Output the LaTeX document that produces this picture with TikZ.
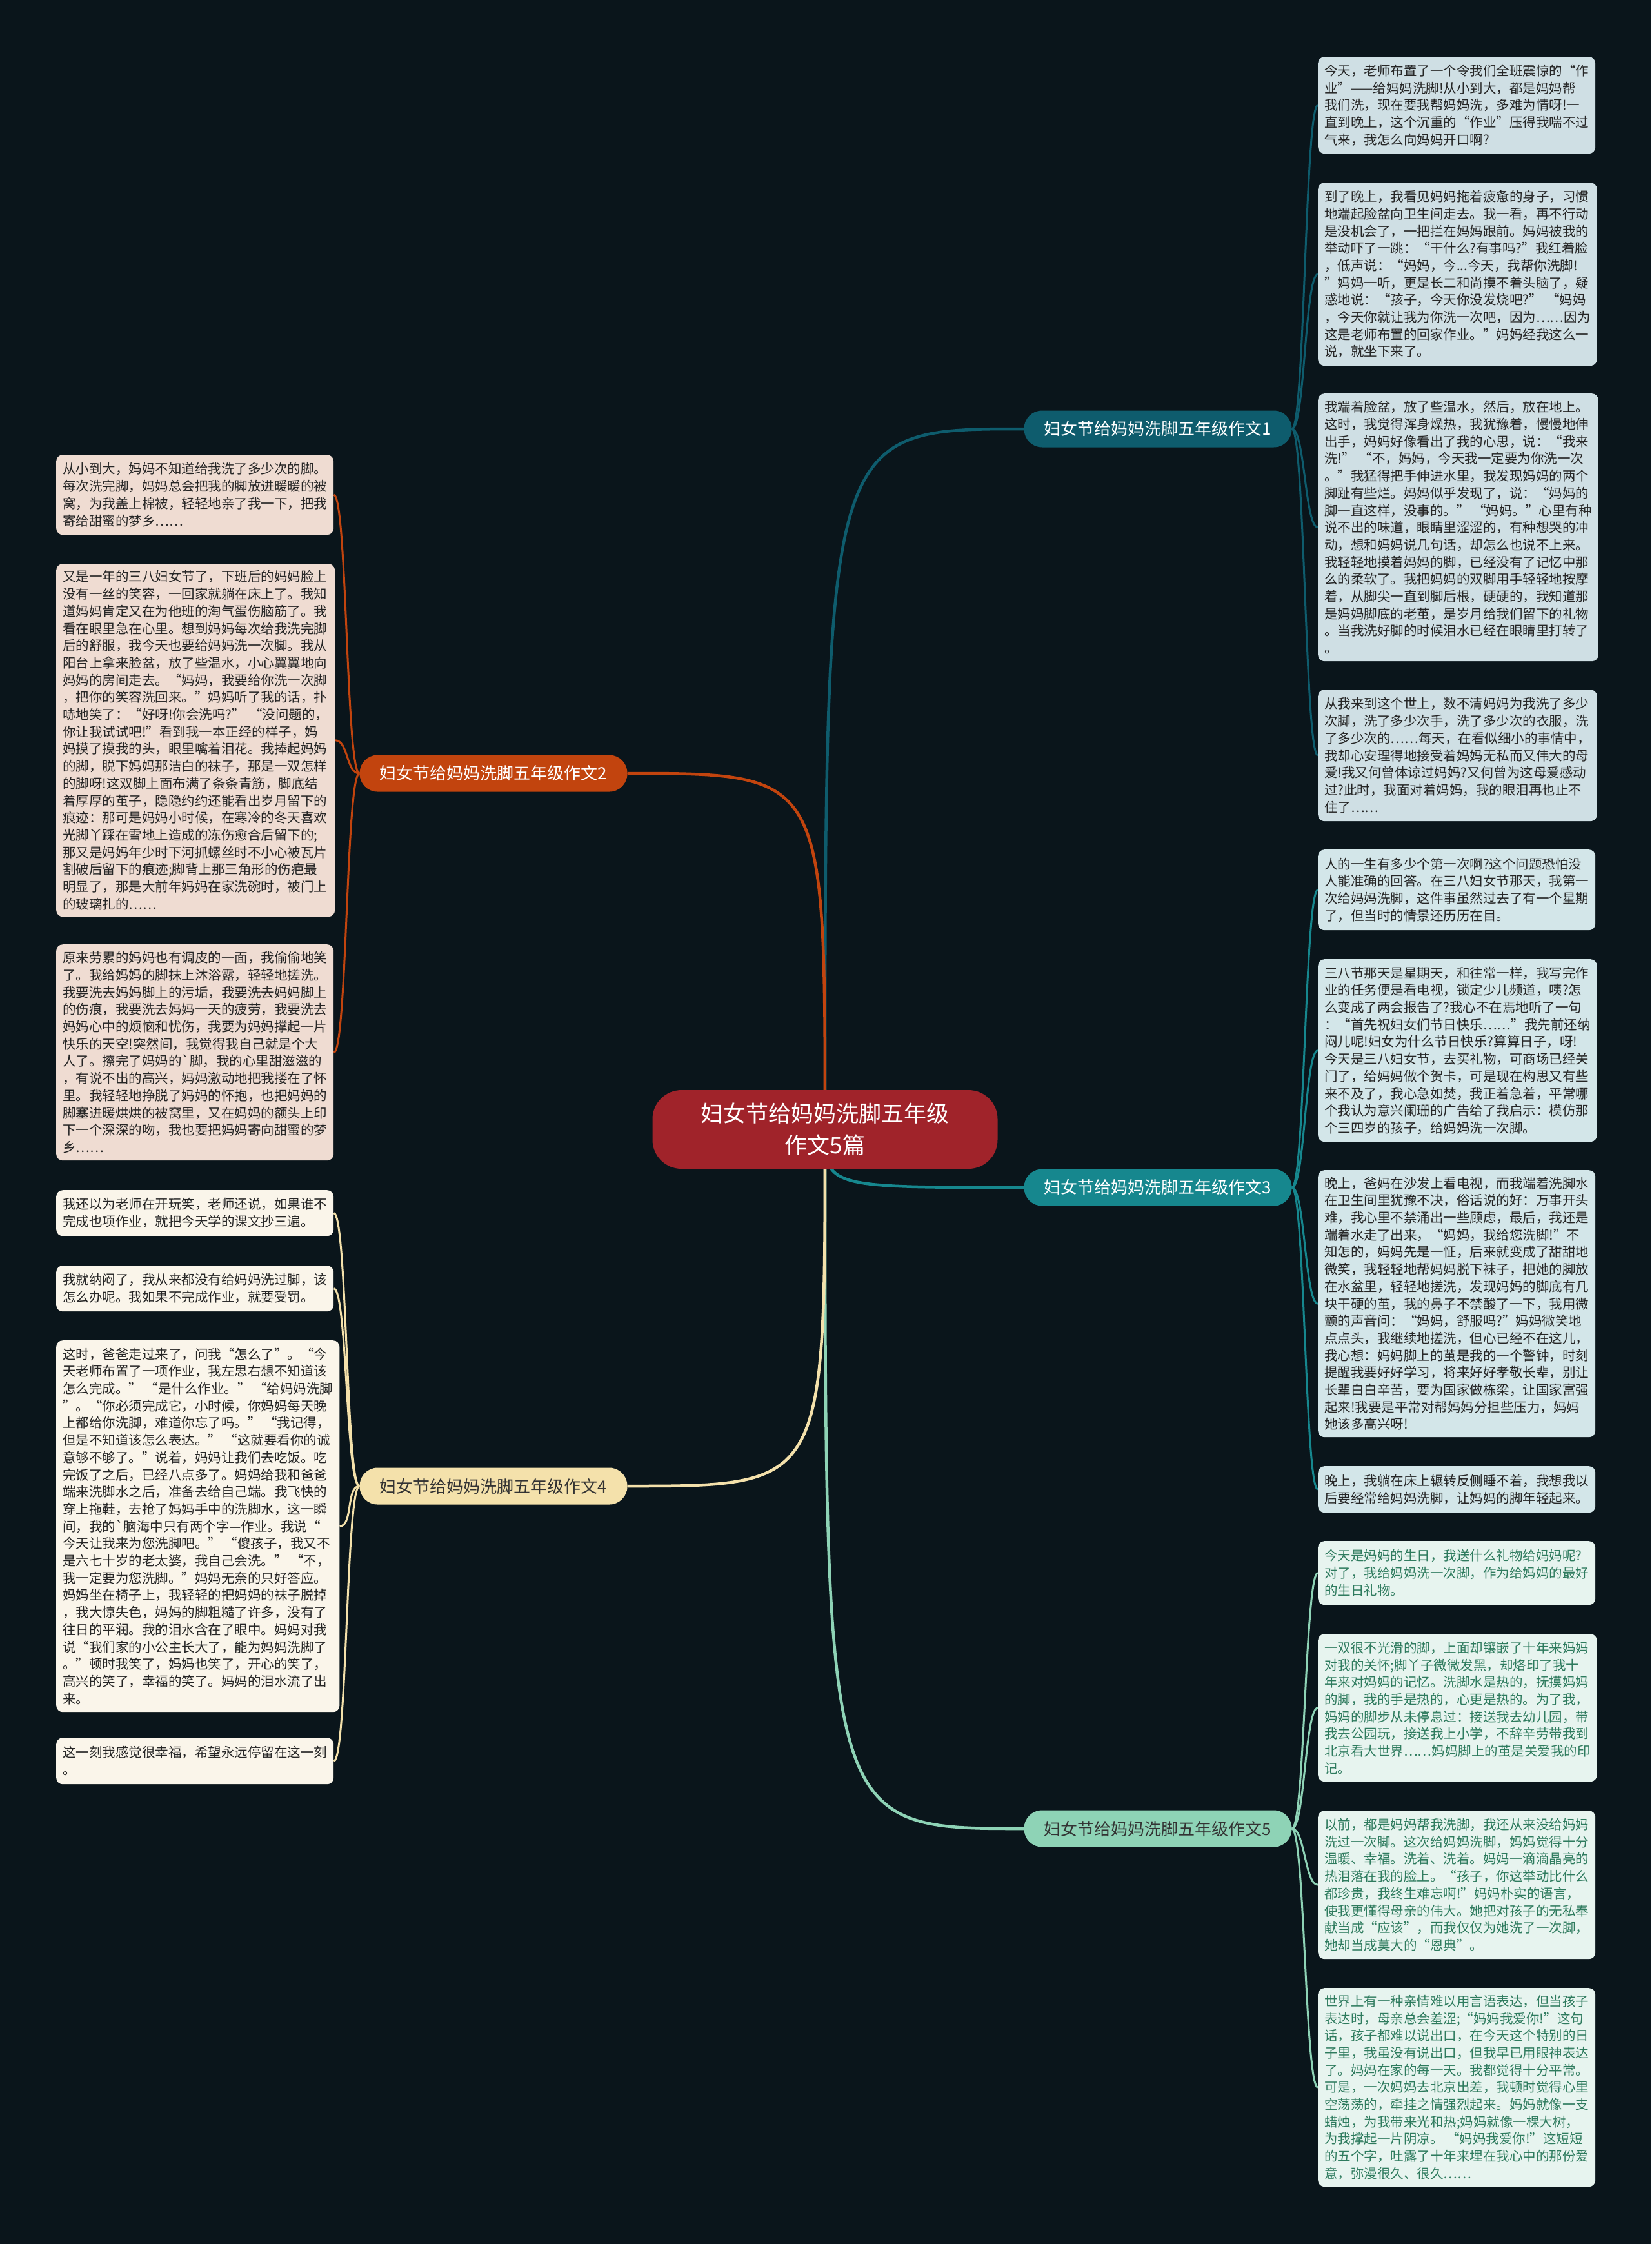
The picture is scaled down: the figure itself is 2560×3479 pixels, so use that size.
\documentclass[tikz,border=0pt]{standalone}
\usepackage{fontspec}
\usepackage{xcolor}
\usetikzlibrary{calc}
\newfontfamily\cjk{Noto Sans CJK SC}

\definecolor{bgdark}{HTML}{0A151B}
\definecolor{rootred}{HTML}{A0232A}
\definecolor{tealA}{HTML}{0E5C6D}
\definecolor{rust}{HTML}{C2440E}
\definecolor{tealB}{HTML}{16878E}
\definecolor{cream}{HTML}{F4E1AB}
\definecolor{mint}{HTML}{8ED3B6}
\definecolor{leafA}{HTML}{CFDFE4}
\definecolor{leafB}{HTML}{EFDCD2}
\definecolor{leafC}{HTML}{D3E6E9}
\definecolor{leafD}{HTML}{FAF5EA}
\definecolor{leafE}{HTML}{E7F4EF}
\definecolor{greentext}{HTML}{2E7B5E}

\pgfdeclarelayer{back}
\pgfdeclarelayer{lines}
\pgfsetlayers{back,lines,main}

\tikzset{
	root/.style={
		fill=rootred,
		rounded corners=45pt,
		minimum width=535pt,
		minimum height=122pt,
		align=center,
		text=white,
		font={\cjk\fontsize{35pt}{49pt}\selectfont}
	},
	branch/.style={
		rounded corners=28pt,
		minimum width=415pt,
		minimum height=57pt,
		inner sep=0pt,
		text=white,
		font={\cjk\fontsize{26pt}{30pt}\selectfont}
	},
	leaf/.style={
		anchor=north west,
		rounded corners=10pt,
		align=left,
		minimum width=430pt,
		inner xsep=10pt,
		inner ysep=4pt,
		text=black!85,
		font={\cjk\fontsize{20.5pt}{26.7pt}\selectfont}
	},
	link/.style={
		line width=4.5pt
	},
	twig/.style={
		line width=3pt
	}
}

\begin{document}
\begin{tikzpicture}[x=1pt, y=-1pt]
	\begin{pgfonlayer}{back}
		\fill[bgdark] (0,0) rectangle (2560,3479);
	\end{pgfonlayer}

	\node[root] (root) at (1279,1751) {妇女节给妈妈洗脚五年级\\作文5篇};

	\node[branch, fill=tealA] (b1) at (1795,665) {妇女节给妈妈洗脚五年级作文1};
	\node[branch, fill=rust] (b2) at (765,1199) {妇女节给妈妈洗脚五年级作文2};
	\node[branch, fill=tealB] (b3) at (1795,1841) {妇女节给妈妈洗脚五年级作文3};
	\node[branch, fill=cream, text=black!80] (b4) at (765,2304) {妇女节给妈妈洗脚五年级作文4};
	\node[branch, fill=mint, text=black!80] (b5) at (1795,2835) {妇女节给妈妈洗脚五年级作文5};

	% essay 1
	\node[leaf, fill=leafA, minimum height=150pt] (r1) at (2043,88) {今天，老师布置了一个令我们全班震惊的“作\\业”——给妈妈洗脚!从小到大，都是妈妈帮\\我们洗，现在要我帮妈妈洗，多难为情呀!一\\直到晚上，这个沉重的“作业”压得我喘不过\\气来，我怎么向妈妈开口啊?};
	\node[leaf, fill=leafA, minimum height=284pt] (r2) at (2043,283) {到了晚上，我看见妈妈拖着疲惫的身子，习惯\\地端起脸盆向卫生间走去。我一看，再不行动\\是没机会了，一把拦在妈妈跟前。妈妈被我的\\举动吓了一跳：“干什么?有事吗?”我红着脸\\，低声说：“妈妈，今...今天，我帮你洗脚!\\”妈妈一听，更是长二和尚摸不着头脑了，疑\\惑地说：“孩子，今天你没发烧吧?” “妈妈\\，今天你就让我为你洗一次吧，因为……因为\\这是老师布置的回家作业。”妈妈经我这么一\\说，就坐下来了。};
	\node[leaf, fill=leafA, minimum height=415pt] (r3) at (2043,610) {我端着脸盆，放了些温水，然后，放在地上。\\这时，我觉得浑身燥热，我犹豫着，慢慢地伸\\出手，妈妈好像看出了我的心思，说：“我来\\洗!” “不，妈妈，今天我一定要为你洗一次\\。”我猛得把手伸进水里，我发现妈妈的两个\\脚趾有些烂。妈妈似乎发现了，说：“妈妈的\\脚一直这样，没事的。” “妈妈。”心里有种\\说不出的味道，眼睛里涩涩的，有种想哭的冲\\动，想和妈妈说几句话，却怎么也说不上来。\\我轻轻地摸着妈妈的脚，已经没有了记忆中那\\么的柔软了。我把妈妈的双脚用手轻轻地按摩\\着，从脚尖一直到脚后根，硬硬的，我知道那\\是妈妈脚底的老茧，是岁月给我们留下的礼物\\。当我洗好脚的时候泪水已经在眼睛里打转了\\。};
	\node[leaf, fill=leafA, minimum height=204pt] (r4) at (2043,1069) {从我来到这个世上，数不清妈妈为我洗了多少\\次脚，洗了多少次手，洗了多少次的衣服，洗\\了多少次的……每天，在看似细小的事情中，\\我却心安理得地接受着妈妈无私而又伟大的母\\爱!我又何曾体谅过妈妈?又何曾为这母爱感动\\过?此时，我面对着妈妈，我的眼泪再也止不\\住了……};

	% essay 3
	\node[leaf, fill=leafC, minimum height=125pt] (r5) at (2043,1317) {人的一生有多少个第一次啊?这个问题恐怕没\\人能准确的回答。在三八妇女节那天，我第一\\次给妈妈洗脚，这件事虽然过去了有一个星期\\了，但当时的情景还历历在目。};
	\node[leaf, fill=leafC, minimum height=283pt] (r6) at (2043,1487) {三八节那天是星期天，和往常一样，我写完作\\业的任务便是看电视，锁定少儿频道，咦?怎\\么变成了两会报告了?我心不在焉地听了一句\\：“首先祝妇女们节日快乐……”我先前还纳\\闷儿呢!妇女为什么节日快乐?算算日子，呀!\\今天是三八妇女节，去买礼物，可商场已经关\\门了，给妈妈做个贺卡，可是现在构思又有些\\来不及了，我心急如焚，我正着急着，平常哪\\个我认为意兴阑珊的广告给了我启示：模仿那\\个三四岁的孩子，给妈妈洗一次脚。};
	\node[leaf, fill=leafC, minimum height=414pt] (r7) at (2043,1814) {晚上，爸妈在沙发上看电视，而我端着洗脚水\\在卫生间里犹豫不决，俗话说的好：万事开头\\难，我心里不禁涌出一些顾虑，最后，我还是\\端着水走了出来，“妈妈，我给您洗脚!”不\\知怎的，妈妈先是一怔，后来就变成了甜甜地\\微笑，我轻轻地帮妈妈脱下袜子，把她的脚放\\在水盆里，轻轻地搓洗，发现妈妈的脚底有几\\块干硬的茧，我的鼻子不禁酸了一下，我用微\\颤的声音问：“妈妈，舒服吗?”妈妈微笑地\\点点头，我继续地搓洗，但心已经不在这儿，\\我心想：妈妈脚上的茧是我的一个警钟，时刻\\提醒我要好好学习，将来好好孝敬长辈，别让\\长辈白白辛苦，要为国家做栋梁，让国家富强\\起来!我要是平常对帮妈妈分担些压力，妈妈\\她该多高兴呀!};
	\node[leaf, fill=leafC, minimum height=72pt] (r8) at (2043,2273) {晚上，我躺在床上辗转反侧睡不着，我想我以\\后要经常给妈妈洗脚，让妈妈的脚年轻起来。};

	% essay 5
	\node[leaf, fill=leafE, text=greentext, minimum height=99pt] (r9) at (2043,2389) {今天是妈妈的生日，我送什么礼物给妈妈呢?\\对了，我给妈妈洗一次脚，作为给妈妈的最好\\的生日礼物。};
	\node[leaf, fill=leafE, text=greentext, minimum height=229pt] (r10) at (2043,2533) {一双很不光滑的脚，上面却镶嵌了十年来妈妈\\对我的关怀;脚丫子微微发黑，却烙印了我十\\年来对妈妈的记忆。洗脚水是热的，抚摸妈妈\\的脚，我的手是热的，心更是热的。为了我，\\妈妈的脚步从未停息过：接送我去幼儿园，带\\我去公园玩，接送我上小学，不辞辛劳带我到\\北京看大世界……妈妈脚上的茧是关爱我的印\\记。};
	\node[leaf, fill=leafE, text=greentext, minimum height=230pt] (r11) at (2043,2807) {以前，都是妈妈帮我洗脚，我还从来没给妈妈\\洗过一次脚。这次给妈妈洗脚，妈妈觉得十分\\温暖、幸福。洗着、洗着。妈妈一滴滴晶亮的\\热泪落在我的脸上。“孩子，你这举动比什么\\都珍贵，我终生难忘啊!”妈妈朴实的语言，\\使我更懂得母亲的伟大。她把对孩子的无私奉\\献当成“应该”，而我仅仅为她洗了一次脚，\\她却当成莫大的“恩典”。};
	\node[leaf, fill=leafE, text=greentext, minimum height=308pt] (r12) at (2043,3082) {世界上有一种亲情难以用言语表达，但当孩子\\表达时，母亲总会羞涩;“妈妈我爱你!”这句\\话，孩子都难以说出口，在今天这个特别的日\\子里，我虽没有说出口，但我早已用眼神表达\\了。妈妈在家的每一天。我都觉得十分平常。\\可是，一次妈妈去北京出差，我顿时觉得心里\\空荡荡的，牵挂之情强烈起来。妈妈就像一支\\蜡烛，为我带来光和热;妈妈就像一棵大树，\\为我撑起一片阴凉。 “妈妈我爱你!”这短短\\的五个字，吐露了十年来埋在我心中的那份爱\\意，弥漫很久、很久……};

	% essay 2
	\node[leaf, fill=leafB, minimum height=124pt] (l1) at (87,705) {从小到大，妈妈不知道给我洗了多少次的脚。\\每次洗完脚，妈妈总会把我的脚放进暖暖的被\\窝，为我盖上棉被，轻轻地亲了我一下，把我\\寄给甜蜜的梦乡……};
	\node[leaf, fill=leafB, minimum height=547pt] (l2) at (87,874) {又是一年的三八妇女节了，下班后的妈妈脸上\\没有一丝的笑容，一回家就躺在床上了。我知\\道妈妈肯定又在为他班的淘气蛋伤脑筋了。我\\看在眼里急在心里。想到妈妈每次给我洗完脚\\后的舒服，我今天也要给妈妈洗一次脚。我从\\阳台上拿来脸盆，放了些温水，小心翼翼地向\\妈妈的房间走去。“妈妈，我要给你洗一次脚\\，把你的笑容洗回来。”妈妈听了我的话，扑\\哧地笑了：“好呀!你会洗吗?” “没问题的，\\你让我试试吧!”看到我一本正经的样子，妈\\妈摸了摸我的头，眼里噙着泪花。我捧起妈妈\\的脚，脱下妈妈那洁白的袜子，那是一双怎样\\的脚呀!这双脚上面布满了条条青筋，脚底结\\着厚厚的茧子，隐隐约约还能看出岁月留下的\\痕迹：那可是妈妈小时候，在寒冷的冬天喜欢\\光脚丫踩在雪地上造成的冻伤愈合后留下的;\\那又是妈妈年少时下河抓螺丝时不小心被瓦片\\割破后留下的痕迹;脚背上那三角形的伤疤最\\明显了，那是大前年妈妈在家洗碗时，被门上\\的玻璃扎的……};
	\node[leaf, fill=leafB, minimum height=335pt] (l3) at (87,1464) {原来劳累的妈妈也有调皮的一面，我偷偷地笑\\了。我给妈妈的脚抹上沐浴露，轻轻地搓洗。\\我要洗去妈妈脚上的污垢，我要洗去妈妈脚上\\的伤痕，我要洗去妈妈一天的疲劳，我要洗去\\妈妈心中的烦恼和忧伤，我要为妈妈撑起一片\\快乐的天空!突然间，我觉得我自己就是个大\\人了。擦完了妈妈的\textasciigrave 脚，我的心里甜滋滋的\\，有说不出的高兴，妈妈激动地把我搂在了怀\\里。我轻轻地挣脱了妈妈的怀抱，也把妈妈的\\脚塞进暖烘烘的被窝里，又在妈妈的额头上印\\下一个深深的吻，我也要把妈妈寄向甜蜜的梦\\乡……};

	% essay 4
	\node[leaf, fill=leafD, minimum height=71pt] (l4) at (87,1845) {我还以为老师在开玩笑，老师还说，如果谁不\\完成也项作业，就把今天学的课文抄三遍。};
	\node[leaf, fill=leafD, minimum height=71pt] (l5) at (87,1962) {我就纳闷了，我从来都没有给妈妈洗过脚，该\\怎么办呢。我如果不完成作业，就要受罚。};
	\node[leaf, fill=leafD, minimum height=576pt] (l6) at (87,2078) {这时，爸爸走过来了，问我“怎么了”。“今\\天老师布置了一项作业，我左思右想不知道该\\怎么完成。” “是什么作业。” “给妈妈洗脚\\”。“你必须完成它，小时候，你妈妈每天晚\\上都给你洗脚，难道你忘了吗。” “我记得，\\但是不知道该怎么表达。” “这就要看你的诚\\意够不够了。”说着，妈妈让我们去吃饭。吃\\完饭了之后，已经八点多了。妈妈给我和爸爸\\端来洗脚水之后，准备去给自己端。我飞快的\\穿上拖鞋，去抢了妈妈手中的洗脚水，这一瞬\\间，我的\textasciigrave 脑海中只有两个字—作业。我说“\\今天让我来为您洗脚吧。” “傻孩子，我又不\\是六七十岁的老太婆，我自己会洗。” “不，\\我一定要为您洗脚。”妈妈无奈的只好答应。\\妈妈坐在椅子上，我轻轻的把妈妈的袜子脱掉\\，我大惊失色，妈妈的脚粗糙了许多，没有了\\往日的平润。我的泪水含在了眼中。妈妈对我\\说“我们家的小公主长大了，能为妈妈洗脚了\\。”顿时我笑了，妈妈也笑了，开心的笑了，\\高兴的笑了，幸福的笑了。妈妈的泪水流了出\\来。};
	\node[leaf, fill=leafD, minimum height=72pt] (l7) at (87,2694) {这一刻我感觉很幸福，希望永远停留在这一刻\\。};

	\begin{pgfonlayer}{lines}
		\foreach \b/\c in {b1/tealA, b3/tealB, b5/mint}
			\draw[link, \c] (root.center) .. controls (root.center |- \b.west) .. (\b.west);
		\foreach \b/\c in {b2/rust, b4/cream}
			\draw[link, \c] (root.center) .. controls (root.center |- \b.east) .. (\b.east);

		\foreach \b/\c/\list in {b1/tealA/{r1,r2,r3,r4}, b3/tealB/{r5,r6,r7,r8}, b5/mint/{r9,r10,r11,r12}}
			\foreach \n in \list
				\draw[twig, \c] (\b.east) .. controls ($(\b.east)+(20,0)$) and ($(\n.west)+(-20,0)$) .. (\n.west);
		\foreach \b/\c/\list in {b2/rust/{l1,l2,l3}, b4/cream/{l4,l5,l6,l7}}
			\foreach \n in \list
				\draw[twig, \c] (\b.west) .. controls ($(\b.west)+(-21,0)$) and ($(\n.east)+(21,0)$) .. (\n.east);
	\end{pgfonlayer}
\end{tikzpicture}
\end{document}
